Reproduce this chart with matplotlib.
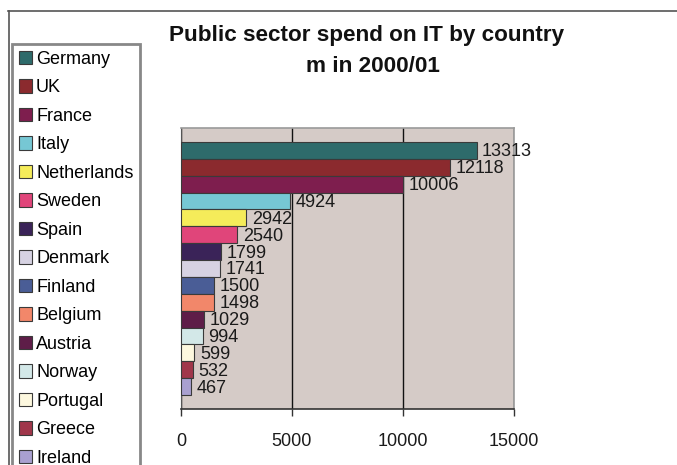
import matplotlib
matplotlib.use("Agg")
import matplotlib.pyplot as plt
from matplotlib.lines import Line2D

plt.rcParams['font.family'] = ['Liberation Sans', 'DejaVu Sans']

countries = ["Germany", "UK", "France", "Italy", "Netherlands", "Sweden", "Spain",
             "Denmark", "Finland", "Belgium", "Austria", "Norway", "Portugal",
             "Greece", "Ireland"]
spend = [13313, 12118, 10006, 4924, 2942, 2540, 1799, 1741, 1500, 1498,
         1029, 994, 599, 532, 467]
colors = ["#2e6b6b", "#8b2a2e", "#7e1e4e", "#76c7d4", "#f5ec5a", "#e0457a",
          "#3a2358", "#d6d2e2", "#4a5d96", "#f2876a", "#5e1d48", "#d3e8e8",
          "#fdf8df", "#a0364a", "#a9a0d0"]
x_ticks = [0, 5000, 10000, 15000]

W, H = 677, 465
fig = plt.figure(figsize=(W / 100, H / 100), dpi=100)
ax = fig.add_axes([181 / W, 1 - 409 / H, (514 - 181) / W, (409 - 128) / H])
ax.set_facecolor("#d5cbc7")

n = len(countries)
handles = []
for i, (name, val, col) in enumerate(zip(countries, spend, colors)):
    y = n - 1 - i
    b = ax.barh(y, val, height=1.0, color=col, edgecolor="#3a3a3a",
                linewidth=0.8, label=name, zorder=3)
    handles.append(b)
    ax.annotate(str(val), xy=(val, y), xytext=(4, -1), textcoords="offset points",
                ha="left", va="center", fontsize=13, color="#1a1a1a", zorder=4)

ax.set_xlim(0, 15000)
ax.set_ylim(-1.32, n - 1 + 1.32)
ax.set_xticks(x_ticks)
ax.set_xticklabels([str(t) for t in x_ticks], fontsize=13, color="#1a1a1a")
ax.tick_params(axis="x", direction="out", length=5, width=1, pad=12, color="#333333")
ax.set_yticks([])
ax.xaxis.grid(True, color="#111111", linewidth=1)
ax.set_axisbelow(True)
for s in ["top", "right"]:
    ax.spines[s].set_color("#9a9a9a")
    ax.spines[s].set_linewidth(1.2)
ax.spines["left"].set_color("#555555")
ax.spines["bottom"].set_color("#333333")
ax.spines["bottom"].set_linewidth(1.2)

fig.text(367 / W, 1 - 35 / H, "Public sector spend on IT by country", ha="center",
         va="center", fontsize=16.2, fontweight="bold", color="#111111")
fig.text(373 / W, 1 - 67 / H, "m in 2000/01", ha="center", va="center",
         fontsize=16.2, fontweight="bold", color="#111111")

leg = fig.legend(handles=handles, labels=countries, loc="upper left",
                 bbox_to_anchor=(12 / W, 1 - 44 / H), fontsize=13,
                 frameon=True, fancybox=False, edgecolor="#6a6a6a",
                 handlelength=0.75, handleheight=0.75, handletextpad=0.2,
                 labelspacing=0.637, borderpad=0.38, borderaxespad=0)
leg.get_frame().set_linewidth(2.0)

fig.add_artist(Line2D([8 / W, 1], [1 - 11 / H, 1 - 11 / H], color="#555555",
                      linewidth=1.2, transform=fig.transFigure))
fig.add_artist(Line2D([9 / W, 9 / W], [0, 1 - 11 / H], color="#555555",
                      linewidth=1.2, transform=fig.transFigure))

fig.savefig("out.png", dpi=100)
